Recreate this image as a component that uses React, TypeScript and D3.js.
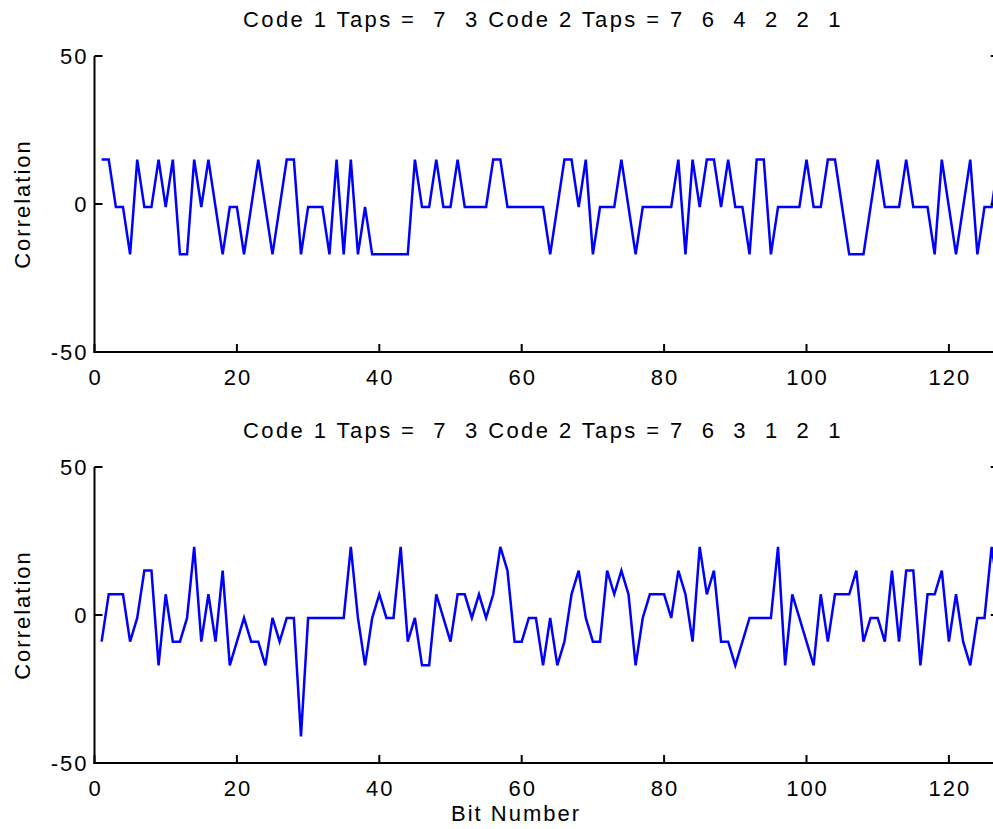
import React, { useEffect, useRef } from 'react';
import * as d3 from 'd3';

// correlation values, bit numbers 1..127
const corrTop: number[] = [
  15, 15, -1, -1, -17, 15, -1, -1, 15, -1, 15, -17, -17, 15, -1, 15, -1, -17, -1, -1,
  -17, -1, 15, -1, -17, -1, 15, 15, -17, -1, -1, -1, -17, 15, -17, 15, -17, -1, -17, -17,
  -17, -17, -17, -17, 15, -1, -1, 15, -1, -1, 15, -1, -1, -1, -1, 15, 15, -1, -1, -1,
  -1, -1, -1, -17, -1, 15, 15, -1, 15, -17, -1, -1, -1, 15, -1, -17, -1, -1, -1, -1,
  -1, 15, -17, 15, -1, 15, 15, -1, 15, -1, -1, -17, 15, 15, -17, -1, -1, -1, -1, 15,
  -1, -1, 15, 15, -1, -17, -17, -17, -1, 15, -1, -1, -1, 15, -1, -1, -1, -17, 15, -1,
  -17, -1, 15, -17, -1, -1, 15,
];

const corrBottom: number[] = [
  -9, 7, 7, 7, -9, -1, 15, 15, -17, 7, -9, -9, -1, 23, -9, 7, -9, 15, -17, -9,
  -1, -9, -9, -17, -1, -9, -1, -1, -41, -1, -1, -1, -1, -1, -1, 23, -1, -17, -1, 7,
  -1, -1, 23, -9, -1, -17, -17, 7, -1, -9, 7, 7, -1, 7, -1, 7, 23, 15, -9, -9,
  -1, -1, -17, -1, -17, -9, 7, 15, -1, -9, -9, 15, 7, 15, 7, -17, -1, 7, 7, 7,
  -1, 15, 7, -9, 23, 7, 15, -9, -9, -17, -9, -1, -1, -1, -1, 23, -17, 7, -1, -9,
  -17, 7, -9, 7, 7, 7, 15, -9, -1, -1, -9, 15, -9, 15, 15, -17, 7, 7, 15, -9,
  7, -9, -17, -1, -1, 23, 7,
];

const titles = [
  'Code 1 Taps =  7  3 Code 2 Taps = 7  6  4  2  2  1',
  'Code 1 Taps =  7  3 Code 2 Taps = 7  6  3  1  2  1',
];
const xTicks = [0, 20, 40, 60, 80, 100, 120];
const yTicks = [-50, 0, 50];

const W = 993;
const H = 829;

const App = () => {
  const svgRef = useRef<SVGSVGElement>(null);

  useEffect(() => {
    const svg = d3.select(svgRef.current);
    svg.selectAll('*').remove();

    const font = "'Liberation Sans', Arial, Helvetica, sans-serif";
    const fs = 22;
    const ls = 2;
    const left = 94.5;
    const right = 94.5 + 127 * 7.12;
    const panels = [
      { data: corrTop, top: 56, bottom: 352, title: titles[0] },
      { data: corrBottom, top: 467, bottom: 763, title: titles[1] },
    ];

    svg.append('rect').attr('width', W).attr('height', H).attr('fill', '#fff');

    const txt = (g: any, spacing = ls) =>
      g.append('text').attr('font-family', font).attr('font-size', fs)
        .attr('letter-spacing', spacing).style('white-space', 'pre');

    panels.forEach((p, k) => {
      const x = d3.scaleLinear().domain([0, 127]).range([left, right]);
      const y = d3.scaleLinear().domain([-50, 50]).range([p.bottom, p.top]);
      const g = svg.append('g');

      const line = d3.line<number>().x((d, i) => x(i + 1)).y(d => y(d));
      g.append('path')
        .datum(p.data)
        .attr('fill', 'none')
        .attr('stroke', '#0000ff')
        .attr('stroke-width', 2.5)
        .attr('d', line);

      // axes lines
      g.append('line').attr('x1', left).attr('x2', left).attr('y1', p.top).attr('y2', p.bottom + 1)
        .attr('stroke', '#000').attr('stroke-width', 2);
      g.append('line').attr('x1', left - 1).attr('x2', right).attr('y1', p.bottom).attr('y2', p.bottom)
        .attr('stroke', '#000').attr('stroke-width', 2);
      g.append('line').attr('x1', right).attr('x2', right).attr('y1', p.top).attr('y2', p.bottom)
        .attr('stroke', '#000').attr('stroke-width', 2);

      xTicks.forEach(t => {
        g.append('line').attr('x1', x(t)).attr('x2', x(t)).attr('y1', p.bottom).attr('y2', p.bottom - 8)
          .attr('stroke', '#000').attr('stroke-width', 2);
        txt(g).attr('x', x(t) + ls / 2).attr('y', p.bottom + 33)
          .attr('text-anchor', 'middle')
          .text(t);
      });
      yTicks.forEach(t => {
        g.append('line').attr('x1', left).attr('x2', left + 8).attr('y1', y(t)).attr('y2', y(t))
          .attr('stroke', '#000').attr('stroke-width', 2);
        g.append('line').attr('x1', right).attr('x2', right - 8).attr('y1', y(t)).attr('y2', y(t))
          .attr('stroke', '#000').attr('stroke-width', 2);
        txt(g).attr('x', left - 6).attr('y', y(t) + 8)
          .attr('text-anchor', 'end')
          .text(t);
      });

      txt(g, 2.4)
        .attr('x', 543).attr('y', p.top - 29)
        .attr('text-anchor', 'middle')
        .text(p.title);

      txt(g)
        .attr('transform', `translate(30,${(p.top + p.bottom) / 2}) rotate(-90)`)
        .attr('text-anchor', 'middle')
        .text('Correlation');

      if (k === 1) {
        txt(g)
          .attr('x', 516).attr('y', p.bottom + 58)
          .attr('text-anchor', 'middle')
          .text('Bit Number');
      }
    });
  }, []);

  return (
    <svg
      ref={svgRef}
      width={W}
      height={H}
      style={{ position: 'absolute', left: 0, top: 0, display: 'block' }}
    />
  );
};

export default App;
